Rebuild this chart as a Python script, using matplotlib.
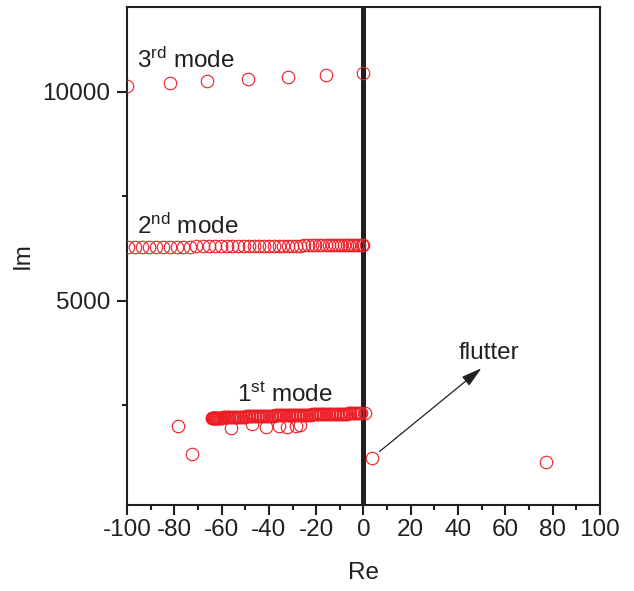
import matplotlib
matplotlib.use('Agg')
import matplotlib.pyplot as plt
from matplotlib.ticker import MultipleLocator

plt.rcParams['font.family'] = ['Liberation Sans', 'DejaVu Sans']
plt.rcParams['mathtext.fontset'] = 'custom'
plt.rcParams['mathtext.rm'] = 'Liberation Sans'
plt.rcParams['mathtext.it'] = 'Liberation Sans'
plt.rcParams['axes.unicode_minus'] = False

# eigenvalues (Re, Im)
mode3_re = [-100, -82, -66, -49, -32, -16, 0]
mode3_im = [10150, 10210, 10260, 10310, 10355, 10400, 10450]

mode2_re = [-99.5, -96.5, -93.5, -90.5, -87.6, -84.7, -81.8, -79.0, -76.2, -73.4,
            -70.7, -68.0, -65.4, -62.8, -60.3, -57.8, -55.4, -53.0, -50.7, -48.4,
            -46.2, -44.0, -41.9, -39.8, -37.8, -35.8, -33.9, -32.0, -30.2, -28.4,
            -26.7, -25.0, -23.4, -21.8, -20.3, -18.8, -17.4, -16.0, -14.6, -13.3,
            -12.0, -10.7, -9.5, -8.3, -7.1, -6.0, -4.9, -3.8, -2.8, -1.8,
            -0.8, 0.0]
mode2_im = [6285, 6287, 6289, 6291, 6293, 6295, 6297, 6299, 6300, 6302,
            6303, 6305, 6306, 6308, 6309, 6310, 6312, 6313, 6314, 6315,
            6316, 6317, 6318, 6319, 6320, 6321, 6322, 6323, 6324, 6325,
            6326, 6327, 6327, 6328, 6329, 6330, 6330, 6331, 6332, 6332,
            6333, 6334, 6334, 6335, 6336, 6336, 6337, 6337, 6338, 6339,
            6339, 6340]

mode1_re = [-64.2, -64.0, -63.8, -63.5, -63.3, -63.1, -62.9, -62.6, -62.4, -62.1,
            -61.8, -61.4, -61.1, -60.7, -60.3, -59.8, -59.4, -58.9, -58.4, -57.8,
            -57.3, -56.7, -56.1, -55.5, -54.9, -54.2, -53.6, -52.9, -52.3, -51.6,
            -51.0, -50.3, -49.7, -49.0, -48.4, -47.7, -47.1, -46.4, -45.8, -45.1,
            -44.5, -43.8, -43.2, -42.5, -41.9, -41.2, -40.6, -39.9, -39.3, -38.6,
            -38.0, -37.3, -36.7, -36.0, -35.4, -34.7, -34.1, -33.4, -32.8, -32.1,
            -31.5, -30.8, -30.2, -29.5, -28.9, -28.2, -27.6, -26.9, -26.3, -25.6,
            -25.0, -24.3, -23.7, -23.0, -22.4, -21.7, -21.1, -20.4, -19.8, -19.1,
            -18.5, -17.8, -17.2, -16.5, -15.9, -15.2, -14.6, -13.9, -13.3, -12.6,
            -12.0, -11.3, -10.7, -10.0, -9.4, -8.7, -8.1, -7.4, -6.8, -6.1,
            -5.5, -4.8, -4.2, -3.5, -2.9, -2.2, -1.6, -0.9, 0.6]
mode1_im = [2195, 2196, 2197, 2198, 2199, 2200, 2201, 2202, 2203, 2204,
            2205, 2206, 2208, 2209, 2211, 2212, 2214, 2215, 2217, 2218,
            2220, 2221, 2223, 2224, 2226, 2227, 2229, 2230, 2232, 2233,
            2235, 2236, 2238, 2239, 2241, 2242, 2244, 2245, 2247, 2248,
            2250, 2251, 2252, 2253, 2254, 2255, 2256, 2257, 2258, 2259,
            2260, 2261, 2262, 2263, 2264, 2265, 2266, 2267, 2268, 2269,
            2270, 2271, 2272, 2273, 2274, 2275, 2276, 2277, 2278, 2279,
            2280, 2281, 2282, 2283, 2284, 2285, 2286, 2287, 2288, 2289,
            2290, 2291, 2292, 2293, 2294, 2295, 2296, 2297, 2298, 2299,
            2300, 2301, 2302, 2303, 2304, 2305, 2306, 2307, 2308, 2309,
            2310, 2311, 2312, 2313, 2314, 2315, 2316, 2317, 2322]

# scattered points below the 1st mode branch
mode1b_re = [-78.4, -72.3, -56.0, -47.0, -41.2, -35.6, -32.5, -28.5, -27.0]
mode1b_im = [2000, 1340, 1960, 2050, 1985, 2000, 1995, 2020, 2035]

# unstable (flutter) points
flutter_re = [3.8, 77.0]
flutter_im = [1250, 1140]

dark = '#231f20'
red = '#ed1c24'
fs = 17.5

fig = plt.figure(figsize=(6.34, 5.91), dpi=100)
ax = fig.add_axes([0.2003, 0.1455, 0.746, 0.8426])

ax.axvline(0, color=dark, lw=3.6, zorder=1)

mk = dict(ls='none', marker='o', ms=9, mfc='none', mec=red, mew=0.8, zorder=3)
ax.plot(mode3_re, mode3_im, **mk)
ax.plot(mode2_re, mode2_im, **mk)
ax.plot(mode1_re, mode1_im, **mk)
ax.plot(mode1b_re, mode1b_im, **mk)
ax.plot(flutter_re, flutter_im, **mk)

ax.set_xlim(-100, 100)
ax.set_ylim(120, 12030)
ax.xaxis.set_major_locator(MultipleLocator(20))
ax.xaxis.set_minor_locator(MultipleLocator(10))
ax.yaxis.set_major_locator(MultipleLocator(5000))
ax.yaxis.set_minor_locator(MultipleLocator(2500))

for s in ax.spines.values():
    s.set_linewidth(1.5)
    s.set_color(dark)
ax.tick_params(which='both', direction='out', color=dark, width=1.5,
               labelsize=fs, labelcolor=dark, top=False, right=False)
ax.tick_params(which='major', length=7)
ax.tick_params(which='minor', length=3.5)
ax.tick_params(axis='x', pad=3)
ax.tick_params(axis='y', pad=5)

ax.set_xlabel('Re', fontsize=fs, color=dark, labelpad=15)
ax.set_ylabel('Im', fontsize=fs, color=dark, labelpad=6)

ax.text(-95.8, 10765, r'3$^{\mathrm{rd}}$ mode', fontsize=fs, color=dark, va='center')
ax.text(-95.8, 6795, r'2$^{\mathrm{nd}}$ mode', fontsize=fs, color=dark, va='center')
ax.text(-53.4, 2752, r'1$^{\mathrm{st}}$ mode', fontsize=fs, color=dark, va='center')
ax.text(40.3, 3757, 'flutter', fontsize=fs, color=dark, va='center')

ax.annotate('', xy=(49.9, 3391), xytext=(6.8, 1400),
            arrowprops=dict(arrowstyle='-|>,head_length=0.9,head_width=0.25',
                            lw=0.9, color=dark, mutation_scale=14,
                            shrinkA=0, shrinkB=0))

fig.savefig('out.png', dpi=100)
